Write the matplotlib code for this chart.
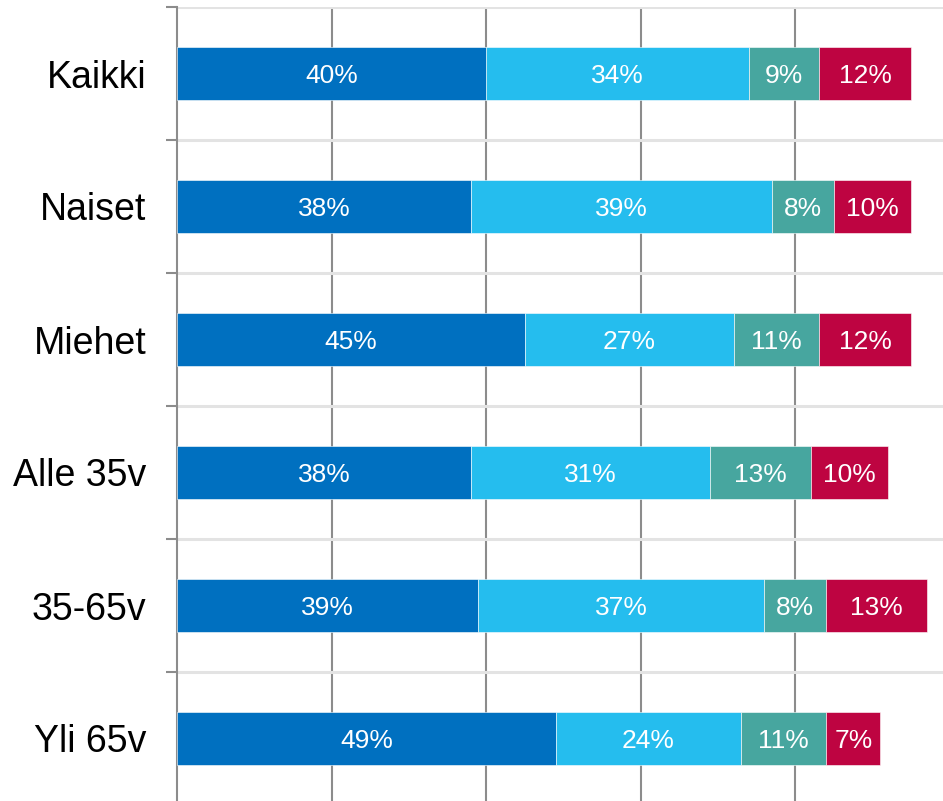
import numpy as np
import matplotlib
matplotlib.use("Agg")
import matplotlib.pyplot as plt
from matplotlib.ticker import FixedLocator

plt.rcParams["font.family"] = ["Liberation Sans", "DejaVu Sans"]

categories = ["Kaikki", "Naiset", "Miehet", "Alle 35v", "35-65v", "Yli 65v"]
seg1 = [40, 38, 45, 38, 39, 49]
seg2 = [34, 39, 27, 31, 37, 24]
seg3 = [9, 8, 11, 13, 8, 11]
seg4 = [12, 10, 12, 10, 13, 7]
colors = ["#0070C0", "#25BDEE", "#47A69F", "#BE0441"]

fig = plt.figure(figsize=(9.43, 8.01), dpi=100)
ax = fig.add_axes([177 / 943, -4 / 801, 1 - 177 / 943, 798 / 801])

y = np.arange(len(categories))
left = np.zeros(len(categories))
for vals, col in zip([seg1, seg2, seg3, seg4], colors):
    vals = np.array(vals, dtype=float)
    ax.barh(y, vals, left=left, height=0.4, color=col,
            edgecolor="white", linewidth=0.4, zorder=3)
    for yi, l, v in zip(y, left, vals):
        ax.text(l + v / 2, yi, f"{int(v)}%", ha="center", va="center_baseline",
                color="white", fontsize=19, zorder=4)
    left += vals

ax.set_xlim(0, 766 / 7.73)
ax.set_ylim(5.5, -0.5)

ax.set_yticks(y)
ax.set_yticklabels(categories, fontsize=27)
ax.tick_params(axis="y", which="major", length=0, pad=22)
ax.yaxis.set_minor_locator(FixedLocator(np.arange(-0.5, 6, 1)))
ax.tick_params(axis="y", which="minor", length=8, width=1.5, color="#8c8c8c")
ax.grid(axis="y", which="minor", color="#e3e3e3", linewidth=2.2, zorder=0)

ax.set_xticks([20, 40, 60, 80])
ax.tick_params(axis="x", length=0, labelbottom=False)
ax.grid(axis="x", which="major", color="#8c8c8c", linewidth=1.5, zorder=1)
ax.set_axisbelow(True)

for s in ["top", "right", "bottom"]:
    ax.spines[s].set_visible(False)
ax.spines["left"].set_color("#8c8c8c")
ax.spines["left"].set_linewidth(1.5)

fig.savefig("out.png", dpi=100)
